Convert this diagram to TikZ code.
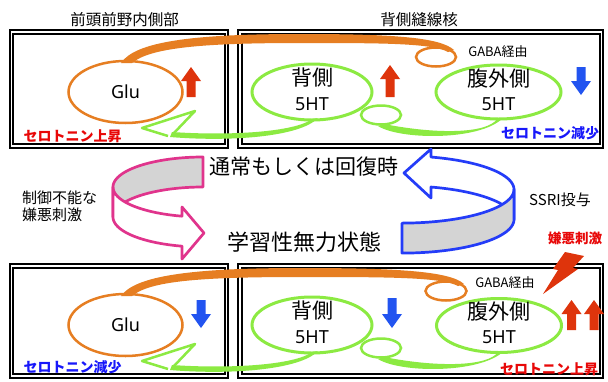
\documentclass[tikz,border=0pt]{standalone}
\usepackage{fontspec}
\setmainfont{Noto Sans CJK JP}
\newfontfamily\latf{Noto Sans}
\usetikzlibrary{shapes.geometric}
\definecolor{orangeC}{RGB}{230,126,34}
\definecolor{greenC}{RGB}{140,234,66}
\definecolor{pinkC}{RGB}{224,52,140}
\definecolor{blueR}{RGB}{36,60,248}
\definecolor{blueA}{RGB}{34,84,240}
\definecolor{redA}{RGB}{222,52,12}
\definecolor{redT}{RGB}{232,8,8}
\definecolor{blueT}{RGB}{24,24,250}
\definecolor{grayF}{RGB}{212,212,212}
\newcommand{\blkup}[4]{\fill[#4] ({#1-4.5},#3) -- ({#1-4.5},{#2+14}) -- ({#1-10},{#2+14}) -- (#1,#2) -- ({#1+10},{#2+14}) -- ({#1+4.5},{#2+14}) -- ({#1+4.5},#3) -- cycle;}
\newcommand{\blkdown}[4]{\fill[#4] ({#1-4.5},#2) -- ({#1-4.5},{#3-14}) -- ({#1-10},{#3-14}) -- (#1,#3) -- ({#1+10},{#3-14}) -- ({#1+4.5},{#3-14}) -- ({#1+4.5},#2) -- cycle;}
\begin{document}
\begin{tikzpicture}[x=1pt,y=-1pt,
  frame/.style={draw=black, double=white, double distance=1.8pt, line width=1.7pt},
  oell/.style={ellipse, draw=orangeC, line width=2.5pt, inner sep=0pt},
  gell/.style={ellipse, draw=greenC, line width=3pt, inner sep=0pt},
  txt/.style={inner sep=0pt, anchor=center},
  lbl/.style={txt, font=\fontsize{15.5}{15.5}\selectfont},
  ctr/.style={txt, font=\fontsize{14}{14}\selectfont\bfseries},
  big/.style={txt, font=\fontsize{21}{21}\selectfont},
  lat/.style={txt, font=\latf\fontsize{18}{18}\selectfont},
  gaba/.style={txt, font=\fontsize{13}{13}\selectfont}]
\useasboundingbox (0,0) rectangle (608,381);
\fill[white] (0,0) rectangle (608,381);

% frames
\draw[frame] (11.5,32) rectangle (226.5,146);
\draw[frame] (240,32) rectangle (601.5,146);
\draw[frame] (11.5,266) rectangle (226.5,376);
\draw[frame] (240,266) rectangle (601.5,376);

% top labels
\node[lbl] (lab1) at (124.5,20) {前頭前野内側部};
\node[lbl] (lab2) at (419,20) {背側縫線核};

% ===== top panel =====
\fill[orangeC] (121,63) .. controls (135,42) and (190,34) .. (300,34) .. controls (390,34) and (440,37) .. (454,50)
  -- (448,52) .. controls (432,43) and (380,43) .. (300,43) .. controls (200,43) and (150,48) .. (132,63) -- cycle;
\node[oell, minimum width=114pt, minimum height=62pt] (glu1) at (125.5,92) {};
\node[lat] (glut1) at (125.5,92) {Glu};
\node[oell, minimum width=40pt, minimum height=19pt] (sm1) at (436,57) {};
\node[gaba] (gaba1) at (498,52) {GABA経由};

\node[gell, minimum width=120pt, minimum height=56pt] (ds1) at (312,92) {};
\node[big] (dst1) at (312,78) {背側};
\node[lat] (dsh1) at (312,104) {5HT};
\node[gell, minimum width=125pt, minimum height=54pt] (vl1) at (498.5,92) {};
\node[big] (vlt1) at (498.5,79) {腹外側};
\node[lat] (vlh1) at (498.5,104) {5HT};
\node[gell, line width=2.5pt, minimum width=40pt, minimum height=19pt] (sg1) at (381,115) {};
\fill[greenC] (497,119) .. controls (488,133) and (440,135) .. (384,124)
  -- (378,126) .. controls (400,140) and (480,141) .. (503,118) -- cycle;
\fill[greenC] (312,119) .. controls (295,132) and (230,136) .. (172,132)
  -- (170,137) .. controls (230,142) and (300,137) .. (318,118) -- cycle;
\draw[greenC, line width=2.5pt, line join=round] (174,133) -- (195,111) -- (142,128) -- (168,136);

\blkup{191}{67}{97}{redA}
\blkup{390}{65}{97}{redA}
\blkdown{581}{67}{95}{blueA}
\node[ctr, text=redT] (s1) at (72.5,136) {セロトニン上昇};
\node[ctr, text=blueT] (s2) at (550,133) {セロトニン減少};

% ===== middle =====
\node[big] (mid1) at (304,167) {通常もしくは回復時};
\node[big, font=\fontsize{22}{22}\selectfont] (mid2) at (304,242) {学習性無力状態};
\node[txt, anchor=west, align=left, font=\fontsize{15}{17.5}\selectfont] (ctl) at (22,206.5) {制御不能な\\嫌悪刺激};
\node[txt, font=\fontsize{15}{15}\selectfont] (ssri) at (560,200) {SSRI投与};

% pink ribbon arrow
\draw[pinkC, line width=2.7pt, fill=grayF, line join=round]
  plot[domain=270:180, samples=40] ({203+90*cos(\x)}, {187+30*sin(\x)})
  -- (113,217)
  -- plot[domain=180:270, samples=40] ({203+90*cos(\x)}, {217+30*sin(\x)})
  -- cycle;
\draw[pinkC, line width=2.7pt, fill=white, line join=round]
  plot[domain=180:103.5, samples=40] ({203+90*cos(\x)}, {187+30*sin(\x)})
  -- (182,207) -- (204,233) -- (182,259) -- (182,246.2)
  -- plot[domain=103.5:180, samples=40] ({203+90*cos(\x)}, {217+30*sin(\x)})
  -- cycle;

% blue ribbon arrow
\draw[blueR, line width=2.7pt, fill=white, line join=round]
  plot[domain=-75:0, samples=40] ({402+112*cos(\x)}, {189.5+33.6*sin(\x)})
  -- (514,219.5)
  -- plot[domain=0:-75, samples=40] ({402+112*cos(\x)}, {219.5+33.6*sin(\x)})
  -- (431,198) -- (404,173) -- (431,149) -- cycle;
\draw[blueR, line width=2.7pt, fill=grayF, line join=round]
  plot[domain=90:0, samples=40] ({402+112*cos(\x)}, {189.5+33.6*sin(\x)})
  -- (514,219.5)
  -- plot[domain=0:90, samples=40] ({402+112*cos(\x)}, {219.5+33.6*sin(\x)})
  -- cycle;

% ===== bottom panel =====
\fill[orangeC] (121,296) .. controls (135,276) and (190,268) .. (300,268) .. controls (395,268) and (450,271) .. (464,284)
  -- (458,286) .. controls (442,277) and (385,277) .. (300,277) .. controls (200,277) and (150,281) .. (132,296) -- cycle;
\node[oell, minimum width=114pt, minimum height=62pt] (glu2) at (125.5,325) {};
\node[lat] (glut2) at (125.5,325) {Glu};
\node[oell, minimum width=41pt, minimum height=19pt] (sm2) at (446,291) {};
\node[gaba] (gaba2) at (505,283) {GABA経由};

\node[gell, minimum width=120pt, minimum height=56pt] (ds2) at (312,325) {};
\node[big] (dst2) at (312,311) {背側};
\node[lat] (dsh2) at (312,337) {5HT};
\node[gell, minimum width=125pt, minimum height=54pt] (vl2) at (499,325.5) {};
\node[big] (vlt2) at (499,312) {腹外側};
\node[lat] (vlh2) at (499,337) {5HT};
\node[gell, line width=2.5pt, minimum width=40pt, minimum height=19pt] (sg2) at (381,348) {};
\fill[greenC] (498,352) .. controls (489,366) and (440,368) .. (384,357)
  -- (378,359) .. controls (400,373) and (480,374) .. (504,351) -- cycle;
\fill[greenC] (312,352) .. controls (295,365) and (230,369) .. (172,365)
  -- (170,370) .. controls (230,375) and (300,370) .. (318,351) -- cycle;
\draw[greenC, line width=2.5pt, line join=round] (174,366) -- (195,344) -- (142,361) -- (168,369);

\blkdown{201}{300}{328}{blueA}
\blkdown{392}{298}{328}{blueA}
\blkup{571.5}{300}{330}{redA}
\blkup{594}{300}{330}{redA}
\node[ctr, text=blueT] (s3) at (72.5,367) {セロトニン減少};
\node[ctr, text=redT] (s4) at (549,369) {セロトニン上昇};

% lightning
\fill[redA] (565,252) -- (584,256) -- (573,268) -- (578,269) -- (543,294) -- (558,270) -- (553,269) -- cycle;
\node[ctr, font=\fontsize{13.5}{13.5}\selectfont\bfseries, text=redT] (ken) at (575,238) {嫌悪刺激};
\end{tikzpicture}
\end{document}
